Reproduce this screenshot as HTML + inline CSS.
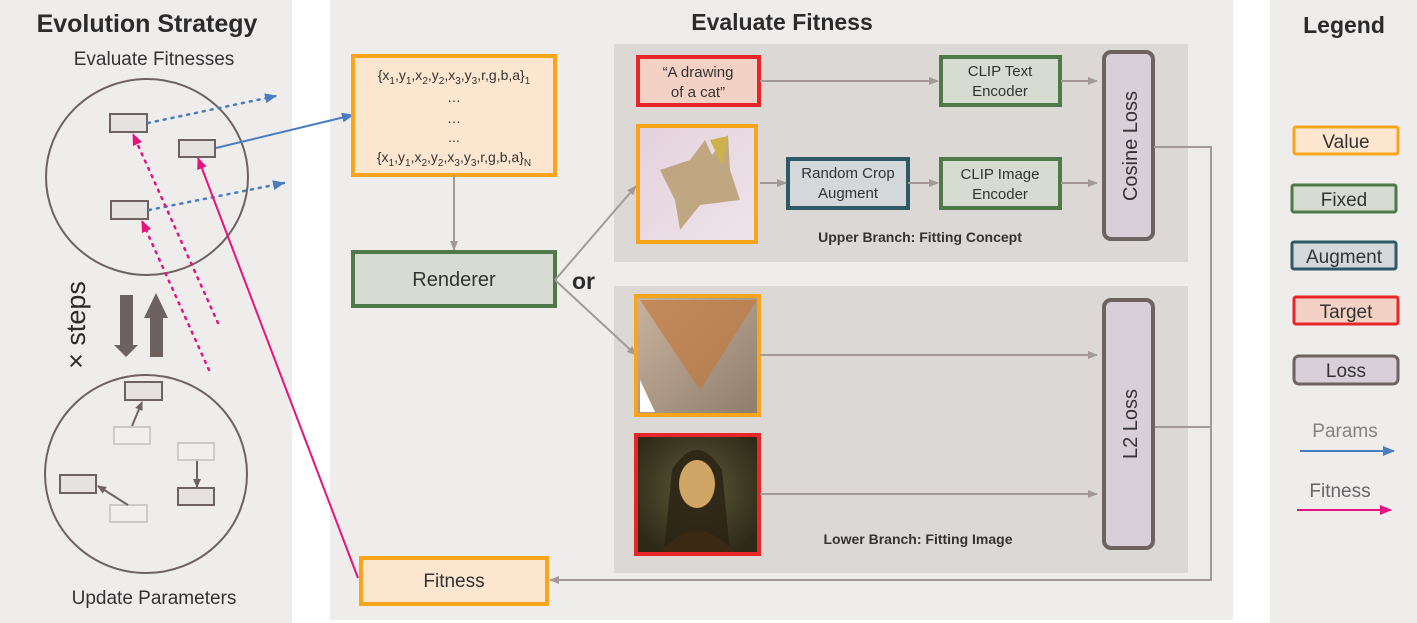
<!DOCTYPE html>
<html><head><meta charset="utf-8"><style>
html,body{margin:0;padding:0;background:#fff}
svg{display:block;font-family:"Liberation Sans",Arial,sans-serif}
</style></head><body>
<svg width="1417" height="623" viewBox="0 0 1417 623" xmlns="http://www.w3.org/2000/svg">
<defs>
<marker id="ag" markerWidth="10" markerHeight="8" refX="9" refY="4" orient="auto" markerUnits="userSpaceOnUse"><path d="M0,0 L10,4 L0,8 z" fill="#a39a98"/></marker>
<marker id="ab" markerWidth="12" markerHeight="10" refX="11" refY="5" orient="auto" markerUnits="userSpaceOnUse"><path d="M0,0 L12,5 L0,10 z" fill="#4a7cc0"/></marker>
<marker id="ap" markerWidth="12" markerHeight="10" refX="11" refY="5" orient="auto" markerUnits="userSpaceOnUse"><path d="M0,0 L12,5 L0,10 z" fill="#e6137f"/></marker>
<marker id="ad" markerWidth="9" markerHeight="8" refX="8" refY="4" orient="auto" markerUnits="userSpaceOnUse"><path d="M0,0 L9,4 L0,8 z" fill="#6e6260"/></marker>
<linearGradient id="cat" x1="0" y1="0" x2="1" y2="1"><stop offset="0" stop-color="#e4d2dc"/><stop offset="1" stop-color="#efe3ea"/></linearGradient>
<linearGradient id="tri" x1="0" y1="0" x2="1" y2="1"><stop offset="0" stop-color="#c9b49e"/><stop offset="1" stop-color="#8f7c6c"/></linearGradient>
<radialGradient id="mona" cx="0.5" cy="0.45" r="0.6"><stop offset="0" stop-color="#5c5a38"/><stop offset="1" stop-color="#2e2a18"/></radialGradient>
</defs>
<rect width="1417" height="623" fill="#ffffff"/>
<rect x="0" y="0" width="292" height="623" fill="#efecec"/>
<rect x="330" y="0" width="903" height="620" fill="#efecec"/>
<rect x="1270" y="0" width="147" height="623" fill="#efecec"/>
<rect x="614" y="44" width="574" height="218" fill="#dcd8d6"/>
<rect x="614" y="286" width="574" height="287" fill="#dcd8d6"/>

<text x="147" y="32" font-size="25" font-weight="bold" text-anchor="middle" fill="#2b2b2b">Evolution Strategy</text>
<text x="154" y="65" font-size="19" text-anchor="middle" fill="#333">Evaluate Fitnesses</text>
<text x="154" y="604" font-size="19" text-anchor="middle" fill="#333">Update Parameters</text>
<text x="782" y="30" font-size="23" font-weight="bold" text-anchor="middle" fill="#2b2b2b">Evaluate Fitness</text>
<text x="1344" y="33" font-size="23" font-weight="bold" text-anchor="middle" fill="#2b2b2b">Legend</text>

<ellipse cx="147" cy="177" rx="101" ry="98" fill="none" stroke="#6e6260" stroke-width="2"/>
<ellipse cx="146" cy="474" rx="101" ry="99" fill="none" stroke="#6e6260" stroke-width="2"/>
<g stroke="#6e6260" stroke-width="2" fill="#e6e2e1">
<rect x="110" y="114" width="37" height="18"/>
<rect x="179" y="140" width="36" height="17"/>
<rect x="111" y="201" width="37" height="18"/>
<rect x="125" y="382" width="37" height="18"/>
<rect x="60" y="475" width="36" height="18"/>
<rect x="178" y="488" width="36" height="17"/>
</g>
<g stroke="#cfc9c8" stroke-width="2" fill="#f1eeee">
<rect x="114" y="427" width="36" height="17"/>
<rect x="178" y="443" width="36" height="17"/>
<rect x="110" y="505" width="37" height="17"/>
</g>
<line x1="132" y1="426" x2="142" y2="402" stroke="#6e6260" stroke-width="2" marker-end="url(#ad)"/>
<line x1="197" y1="461" x2="197" y2="487" stroke="#6e6260" stroke-width="2" marker-end="url(#ad)"/>
<line x1="128" y1="505" x2="98" y2="486" stroke="#6e6260" stroke-width="2" marker-end="url(#ad)"/>
<path d="M120,295 L133,295 L133,345 L138,345 L126,357 L114,345 L120,345 z" fill="#6e6260"/>
<path d="M150,357 L163,357 L163,318 L168,318 L156,293 L144,318 L150,318 z" fill="#6e6260"/>
<text transform="translate(85,325) rotate(-90)" font-size="27" text-anchor="middle" fill="#2b2b2b">× steps</text>

<line x1="148" y1="123" x2="276" y2="96" stroke="#4a7cc0" stroke-width="2.5" stroke-dasharray="2,6" stroke-linecap="round" marker-end="url(#ab)"/>
<line x1="149" y1="210" x2="284" y2="183" stroke="#4a7cc0" stroke-width="2.5" stroke-dasharray="2,6" stroke-linecap="round" marker-end="url(#ab)"/>
<line x1="218" y1="323" x2="133" y2="134" stroke="#e6137f" stroke-width="2.5" stroke-dasharray="2,6" stroke-linecap="round" marker-end="url(#ap)"/>
<line x1="209" y1="370" x2="142" y2="221" stroke="#e6137f" stroke-width="2.5" stroke-dasharray="2,6" stroke-linecap="round" marker-end="url(#ap)"/>
<line x1="216" y1="148" x2="353" y2="115" stroke="#4a7cc0" stroke-width="2" marker-end="url(#ab)"/>
<line x1="358" y1="578" x2="198" y2="158" stroke="#e6137f" stroke-width="2" marker-end="url(#ap)"/>

<rect x="353" y="56" width="202" height="119" fill="#fde6cf" stroke="#f9a51b" stroke-width="4"/>
<g font-size="14" fill="#333" text-anchor="middle">
<text x="454" y="80">{x<tspan font-size="10" dy="4">1</tspan><tspan dy="-4">,y</tspan><tspan font-size="10" dy="4">1</tspan><tspan dy="-4">,x</tspan><tspan font-size="10" dy="4">2</tspan><tspan dy="-4">,y</tspan><tspan font-size="10" dy="4">2</tspan><tspan dy="-4">,x</tspan><tspan font-size="10" dy="4">3</tspan><tspan dy="-4">,y</tspan><tspan font-size="10" dy="4">3</tspan><tspan dy="-4">,r,g,b,a}</tspan><tspan font-size="10" dy="4">1</tspan></text>
<text x="454" y="102">…</text>
<text x="454" y="123">…</text>
<text x="454" y="142">...</text>
<text x="454" y="162">{x<tspan font-size="10" dy="4">1</tspan><tspan dy="-4">,y</tspan><tspan font-size="10" dy="4">1</tspan><tspan dy="-4">,x</tspan><tspan font-size="10" dy="4">2</tspan><tspan dy="-4">,y</tspan><tspan font-size="10" dy="4">2</tspan><tspan dy="-4">,x</tspan><tspan font-size="10" dy="4">3</tspan><tspan dy="-4">,y</tspan><tspan font-size="10" dy="4">3</tspan><tspan dy="-4">,r,g,b,a}</tspan><tspan font-size="10" dy="4">N</tspan></text>
</g>
<line x1="454" y1="175" x2="454" y2="250" stroke="#a39a98" stroke-width="2" marker-end="url(#ag)"/>
<rect x="353" y="252" width="202" height="54" fill="#d7dcd3" stroke="#4e7a4a" stroke-width="4"/>
<text x="454" y="286" font-size="20" text-anchor="middle" fill="#333">Renderer</text>
<text x="572" y="289" font-size="23" font-weight="bold" fill="#2b2b2b">or</text>
<polyline points="555,280 636,186" fill="none" stroke="#a39a98" stroke-width="2" marker-end="url(#ag)"/>
<polyline points="555,280 636,355" fill="none" stroke="#a39a98" stroke-width="2" marker-end="url(#ag)"/>

<rect x="361" y="558" width="186" height="46" fill="#fde6cf" stroke="#f9a51b" stroke-width="4"/>
<text x="454" y="587" font-size="19" text-anchor="middle" fill="#333">Fitness</text>

<rect x="638" y="57" width="121" height="48" fill="#f3d1c4" stroke="#e8262a" stroke-width="4"/>
<text x="698" y="77" font-size="15" text-anchor="middle" fill="#333">“A drawing</text>
<text x="698" y="97" font-size="15" text-anchor="middle" fill="#333">of a cat”</text>
<rect x="638" y="126" width="118" height="116" fill="url(#cat)" stroke="#f9a51b" stroke-width="4"/>
<path d="M660,170 L690,160 L705,140 L712,155 L728,135 L730,170 L740,200 L700,205 L680,230 L675,200 z" fill="#b79e70" opacity="0.85"/>
<path d="M710,140 L728,136 L722,165 z" fill="#cbb34a"/>
<rect x="941" y="57" width="119" height="48" fill="#d7dcd3" stroke="#4e7a4a" stroke-width="4"/>
<text x="1000" y="76" font-size="15" text-anchor="middle" fill="#333">CLIP Text</text>
<text x="1000" y="96" font-size="15" text-anchor="middle" fill="#333">Encoder</text>
<rect x="788" y="159" width="120" height="49" fill="#d4d8db" stroke="#2d5a66" stroke-width="4"/>
<text x="848" y="178" font-size="15" text-anchor="middle" fill="#333">Random Crop</text>
<text x="848" y="198" font-size="15" text-anchor="middle" fill="#333">Augment</text>
<rect x="941" y="159" width="119" height="49" fill="#d7dcd3" stroke="#4e7a4a" stroke-width="4"/>
<text x="1000" y="179" font-size="15" text-anchor="middle" fill="#333">CLIP Image</text>
<text x="1000" y="199" font-size="15" text-anchor="middle" fill="#333">Encoder</text>
<rect x="1104" y="52" width="49" height="187" rx="7" fill="#d9cfd9" stroke="#6e6260" stroke-width="4"/>
<text transform="translate(1137,146) rotate(-90)" font-size="20" text-anchor="middle" fill="#333">Cosine Loss</text>
<g stroke="#a39a98" stroke-width="2" fill="none">
<line x1="760" y1="81" x2="938" y2="81" marker-end="url(#ag)"/>
<line x1="760" y1="183" x2="786" y2="183" marker-end="url(#ag)"/>
<line x1="908" y1="183" x2="938" y2="183" marker-end="url(#ag)"/>
<line x1="1061" y1="81" x2="1097" y2="81" marker-end="url(#ag)"/>
<line x1="1061" y1="183" x2="1097" y2="183" marker-end="url(#ag)"/>
<polyline points="1154,147 1211,147 1211,580 550,580" marker-end="url(#ag)"/>
<line x1="1154" y1="427" x2="1211" y2="427"/>
</g>
<text x="920" y="242" font-size="14" font-weight="bold" text-anchor="middle" fill="#333">Upper Branch: Fitting Concept</text>

<rect x="636" y="296" width="123" height="119" fill="url(#tri)" stroke="#f9a51b" stroke-width="4"/>
<path d="M640,300 L757,300 L700,390 z" fill="#c27a3e" opacity="0.7"/>
<path d="M640,380 L655,412 L640,412 z" fill="#fff"/>
<rect x="636" y="435" width="123" height="119" fill="url(#mona)" stroke="#e8262a" stroke-width="4"/>
<path d="M672,470 Q697,430 722,470 L730,552 L664,552 z" fill="#2a2012" opacity="0.8"/>
<ellipse cx="697" cy="484" rx="18" ry="24" fill="#d0a565"/>
<path d="M660,552 Q697,510 734,552 z" fill="#3a2a14"/>
<rect x="1104" y="300" width="49" height="248" rx="7" fill="#d9cfd9" stroke="#6e6260" stroke-width="4"/>
<text transform="translate(1137,424) rotate(-90)" font-size="20" text-anchor="middle" fill="#333">L2 Loss</text>
<line x1="760" y1="355" x2="1097" y2="355" stroke="#a39a98" stroke-width="2" marker-end="url(#ag)"/>
<line x1="760" y1="494" x2="1097" y2="494" stroke="#a39a98" stroke-width="2" marker-end="url(#ag)"/>
<text x="918" y="544" font-size="14" font-weight="bold" text-anchor="middle" fill="#333">Lower Branch: Fitting Image</text>

<g font-size="19" text-anchor="middle" fill="#333">
<rect x="1294" y="127" width="104" height="27" rx="2" fill="#fde6cf" stroke="#f9a51b" stroke-width="3"/>
<text x="1346" y="148">Value</text>
<rect x="1292" y="185" width="104" height="27" rx="2" fill="#d7dcd3" stroke="#4e7a4a" stroke-width="3"/>
<text x="1344" y="206">Fixed</text>
<rect x="1292" y="242" width="104" height="27" rx="2" fill="#d4d8db" stroke="#2d5a66" stroke-width="3"/>
<text x="1344" y="263">Augment</text>
<rect x="1294" y="297" width="104" height="27" rx="2" fill="#f3d1c4" stroke="#e8262a" stroke-width="3"/>
<text x="1346" y="318">Target</text>
<rect x="1294" y="356" width="104" height="28" rx="5" fill="#d9cfd9" stroke="#6e6260" stroke-width="3"/>
<text x="1346" y="377">Loss</text>
<text x="1345" y="437" fill="#8a8080">Params</text>
<text x="1340" y="497" fill="#666">Fitness</text>
</g>
<line x1="1300" y1="451" x2="1394" y2="451" stroke="#4a7cc0" stroke-width="2" marker-end="url(#ab)"/>
<line x1="1297" y1="510" x2="1391" y2="510" stroke="#e6137f" stroke-width="2" marker-end="url(#ap)"/>
</svg>
</body></html>
